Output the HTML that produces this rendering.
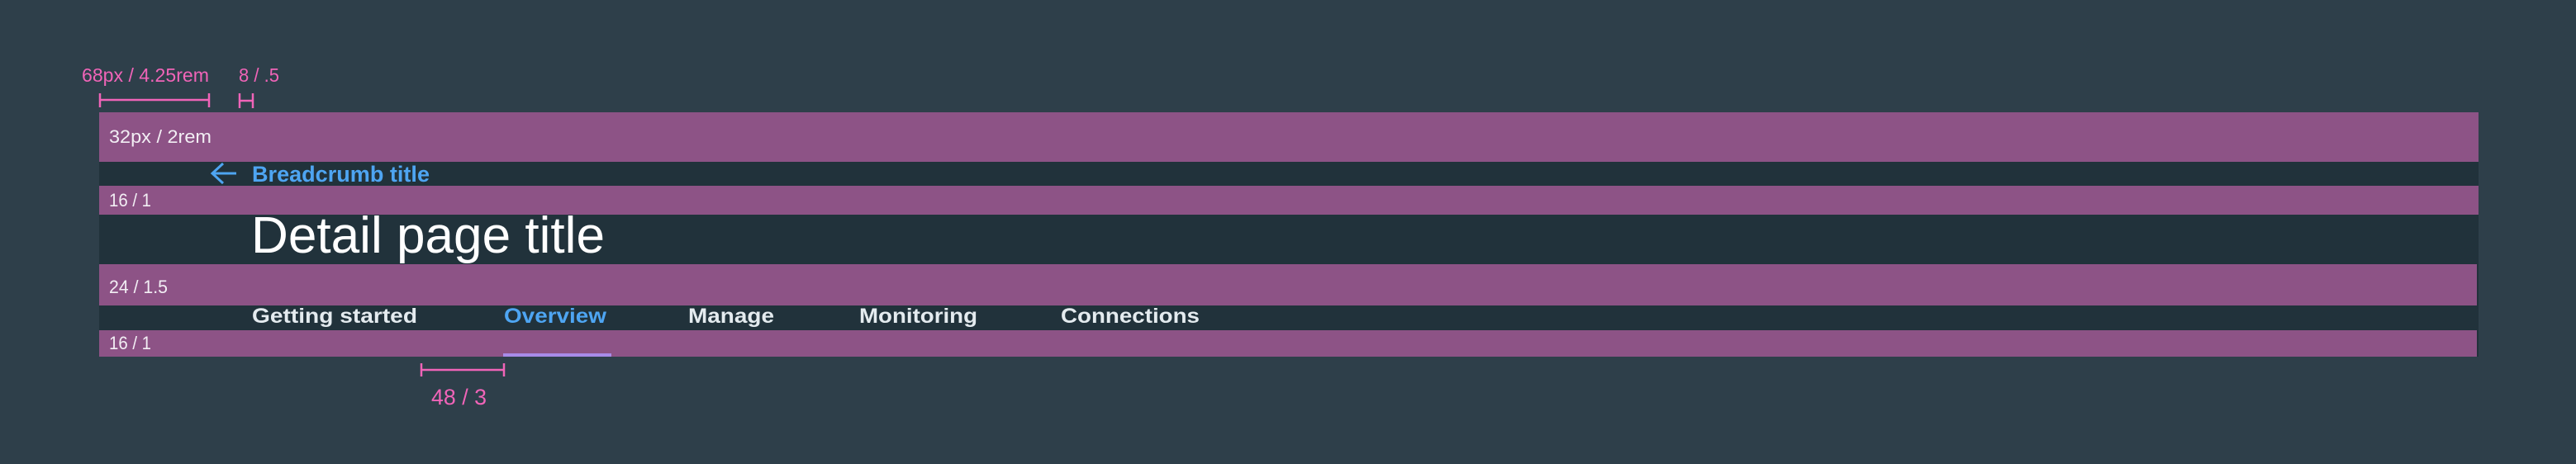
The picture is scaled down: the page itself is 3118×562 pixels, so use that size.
<!DOCTYPE html>
<html><head><meta charset="utf-8"><style>
html,body{margin:0;padding:0;background:#2e3f4a;}
svg{display:block;font-family:"Liberation Sans",sans-serif;}
</style></head><body>
<svg width="3118" height="562" viewBox="0 0 3118 562">
<rect x="0" y="0" width="3118" height="562" fill="#2e3f4a"/>
<g>
<text x="99" y="99" font-size="23" fill="#f064b8" textLength="154" lengthAdjust="spacingAndGlyphs">68px / 4.25rem</text>
<path d="M121 121H253M121 113V130M253 113V130" stroke="#f064b8" stroke-width="2.5" fill="none"/>
<text x="289" y="99" font-size="23" fill="#f064b8" textLength="49" lengthAdjust="spacingAndGlyphs">8 / .5</text>
<path d="M290 122H306M290 113V131M306 113V131" stroke="#f064b8" stroke-width="2.5" fill="none"/>
</g>
<rect x="120" y="136" width="2880" height="296" fill="#21323b"/>
<rect x="120" y="136" width="2880" height="60" fill="#8d5386"/>
<text x="132" y="173" font-size="22" fill="#f2eef4" textLength="124" lengthAdjust="spacingAndGlyphs">32px / 2rem</text>
<path d="M286 210H258M270 198L257 210L270 222" stroke="#4ea5f2" stroke-width="3" fill="none"/>
<text x="305" y="220" font-size="27" font-weight="bold" fill="#4ea5f2" textLength="215" lengthAdjust="spacingAndGlyphs">Breadcrumb title</text>
<rect x="120" y="225" width="2880" height="35" fill="#8d5386"/>
<text x="132" y="250" font-size="22" fill="#f2eef4" textLength="51" lengthAdjust="spacingAndGlyphs">16 / 1</text>
<text x="304" y="306" font-size="62" font-weight="300" fill="#ffffff" textLength="428" lengthAdjust="spacingAndGlyphs">Detail page title</text>
<rect x="120" y="320" width="2878" height="50" fill="#8d5386"/>
<text x="132" y="355" font-size="22" fill="#f2eef4" textLength="71" lengthAdjust="spacingAndGlyphs">24 / 1.5</text>
<g font-size="25" font-weight="bold">
<text x="305" y="391" fill="#e4ebef" textLength="200" lengthAdjust="spacingAndGlyphs">Getting started</text>
<text x="610" y="391" fill="#4ea5f2" textLength="124" lengthAdjust="spacingAndGlyphs">Overview</text>
<text x="833" y="391" fill="#e4ebef" textLength="104" lengthAdjust="spacingAndGlyphs">Manage</text>
<text x="1040" y="391" fill="#e4ebef" textLength="143" lengthAdjust="spacingAndGlyphs">Monitoring</text>
<text x="1284" y="391" fill="#e4ebef" textLength="168" lengthAdjust="spacingAndGlyphs">Connections</text>
</g>
<rect x="120" y="400" width="2878" height="32" fill="#8d5386"/>
<text x="132" y="423" font-size="22" fill="#f2eef4" textLength="51" lengthAdjust="spacingAndGlyphs">16 / 1</text>
<rect x="609" y="428" width="131" height="4" fill="#a88be8"/>
<path d="M510 448H610M510 440V456M610 440V456" stroke="#f064b8" stroke-width="2.5" fill="none"/>
<text x="522" y="490" font-size="27" fill="#f064b8" textLength="67" lengthAdjust="spacingAndGlyphs">48 / 3</text>
</svg>
</body></html>
